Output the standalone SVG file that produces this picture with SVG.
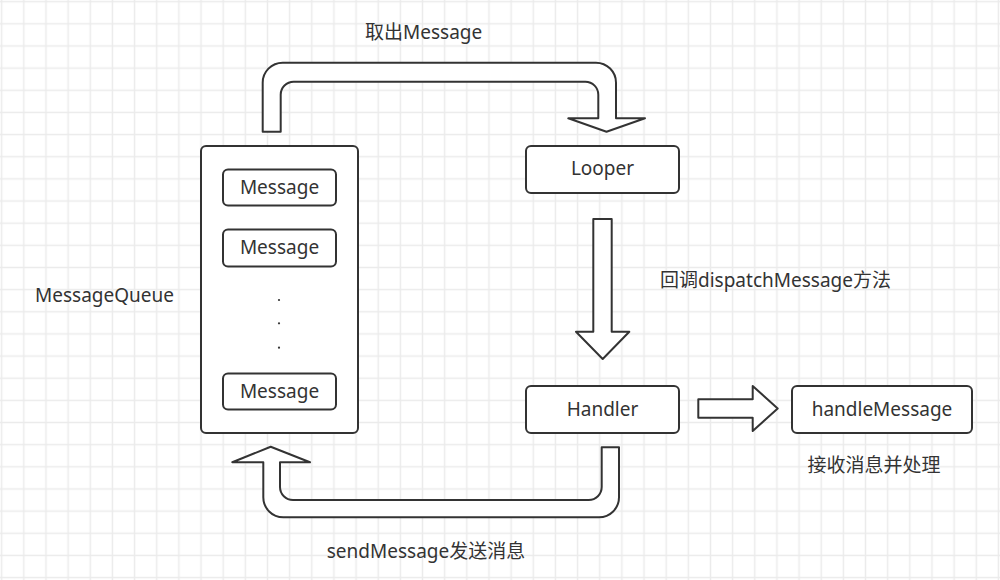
<svg xmlns="http://www.w3.org/2000/svg" width="1000" height="580" viewBox="0 0 1000 580">
<style>
  .t { font-family: "Noto Sans", "Noto Sans CJK SC", sans-serif; font-size: 19px; fill: #333; }
  .c { text-anchor: middle; }
  .box { fill: #fff; stroke: #333; stroke-width: 2; }
  .arrow { fill: #fff; stroke: #333; stroke-width: 2; stroke-linejoin: round; }
</style>
<defs>
  <pattern id="grid" patternUnits="userSpaceOnUse" x="-9.4" y="-9.4" width="22.15" height="22.15">
    <path d="M11.075 0V22.15M0 11.075H22.15" stroke="#ebebeb" stroke-width="1.5" fill="none"/>
  </pattern>
</defs>
<rect width="1000" height="580" fill="#fff"/>
<rect width="1000" height="580" fill="url(#grid)"/>

<g id="connectors">
  <path id="arrow-top" class="arrow" d="M262.7 131.7V83A20 20 0 0 1 282.7 62.7H596A20 20 0 0 1 616 82.7V118.3H645L606.5 131.7L568.3 118.3H598.3V95A13 13 0 0 0 585.3 81.7H294A13 13 0 0 0 280.7 95V131.7Z"/>
  <path id="arrow-down" class="arrow" d="M593.3 219H611.7V331.7H629.3L602.7 359L576 331.7H593.3Z"/>
  <path id="arrow-right" class="arrow" d="M698.3 399.3H752.7V386L777.7 408.5L752.7 431V417.7H698.3Z"/>
  <path id="arrow-bottom" class="arrow" d="M619 447.3V497.3A20 20 0 0 1 599 517.3H283.3A20 20 0 0 1 263.3 497.3V462.3H232.3L270.7 446.7L310 462.3H280V487A13 13 0 0 0 293 500H588.7A13 13 0 0 0 601.7 487V447.3Z"/>
</g>

<g id="label-take">
  <text class="t" x="365" y="39">取出Message</text>
</g>

<g id="messagequeue">
  <rect class="box" x="201" y="146" width="157" height="287" rx="5"/>
  <text class="t" x="35" y="302">MessageQueue</text>
</g>

<g id="message1">
  <rect class="box" x="223" y="169.5" width="113" height="36" rx="5"/>
  <text class="t c" x="279.5" y="193.5">Message</text>
</g>
<g id="message2">
  <rect class="box" x="223" y="229.5" width="113" height="37" rx="5"/>
  <text class="t c" x="279.5" y="253.5">Message</text>
</g>
<g id="dots">
  <circle cx="279" cy="300" r="1.1" fill="#333"/>
  <circle cx="279" cy="323.3" r="1.1" fill="#333"/>
  <circle cx="279" cy="347.7" r="1.1" fill="#333"/>
</g>
<g id="message3">
  <rect class="box" x="223" y="373.5" width="113" height="36" rx="5"/>
  <text class="t c" x="279.5" y="397.5">Message</text>
</g>

<g id="looper">
  <rect class="box" x="526" y="146" width="153" height="47" rx="5"/>
  <text class="t c" x="602.5" y="175">Looper</text>
</g>

<g id="label-dispatch">
  <text class="t" x="660" y="287">回调dispatchMessage方法</text>
</g>

<g id="handler">
  <rect class="box" x="526" y="386" width="153" height="47" rx="5"/>
  <text class="t c" x="602.5" y="416">Handler</text>
</g>

<g id="handlemessage">
  <rect class="box" x="792" y="386" width="180" height="47" rx="5"/>
  <text class="t c" x="882" y="416">handleMessage</text>
  <text class="t c" x="874" y="472">接收消息并处理</text>
</g>

<g id="label-send">
  <text class="t c" x="426" y="557.5">sendMessage发送消息</text>
</g>
</svg>
